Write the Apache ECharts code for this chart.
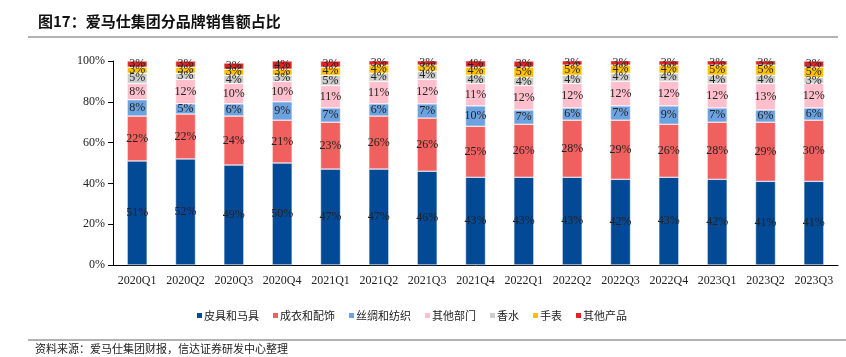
<!DOCTYPE html>
<html><head><meta charset="utf-8">
<script src="https://cdn.jsdelivr.net/npm/echarts@6/dist/echarts.min.js"></script>
<style>html,body{margin:0;padding:0;background:#fff}#c{width:846px;height:357px}</style>
</head><body><div id="c"></div>
<script>
const categories = ['2020Q1','2020Q2','2020Q3','2020Q4','2021Q1','2021Q2','2021Q3','2021Q4','2022Q1','2022Q2','2022Q3','2022Q4','2023Q1','2023Q2','2023Q3'];
const leather = [51,52,49,50,47,47,46,43,43,43,42,43,42,41,41];
const readyToWear = [22,22,24,21,23,26,26,25,26,28,29,26,28,29,30];
const silk = [8,5,6,9,7,6,7,10,7,6,7,9,7,6,6];
const otherBusiness = [8,12,10,10,11,11,12,11,12,12,12,12,12,13,12];
const perfume = [5,3,4,3,5,4,4,4,4,4,4,4,4,4,3];
const watches = [3,3,3,3,4,4,3,4,5,5,4,4,5,5,5];
const otherProducts = [3,3,3,4,3,3,3,4,3,3,3,3,3,3,3];
const yTicks = ['0%','20%','40%','60%','80%','100%'];

const seriesDefs = [
  ['皮具和马具', leather, '#034a96'],
  ['成衣和配饰', readyToWear, '#f0605e'],
  ['丝绸和纺织', silk, '#6ca2e0'],
  ['其他部门', otherBusiness, '#ffbfcc'],
  ['香水', perfume, '#cccccc'],
  ['手表', watches, '#ffc000'],
  ['其他产品', otherProducts, '#e02424']
];
const serif = "'Liberation Serif','Times New Roman',serif";
const chart = echarts.init(document.getElementById('c'));
chart.setOption({
  animation: false,
  grid: {left: 113, right: 8, top: 61, bottom: 92},
  legend: {
    left: 190, top: 305, itemWidth: 7, itemHeight: 7, itemGap: 12,
    icon: 'rect',
    textStyle: {fontFamily: "'Noto Sans CJK SC'", fontSize: 11, color: '#222', padding: [0,0,0,-4]},
    data: seriesDefs.map(d => d[0])
  },
  xAxis: {
    type: 'category', data: categories,
    axisLine: {lineStyle: {color: '#000', width: 1}},
    axisTick: {show: false},
    axisLabel: {fontFamily: serif, fontSize: 12, color: '#222', margin: 10, interval: 0}
  },
  yAxis: {
    type: 'value', min: 0, max: 100, interval: 20,
    axisLine: {show: true, lineStyle: {color: '#000'}},
    axisTick: {show: true, length: 5, lineStyle: {color: '#000'}},
    splitLine: {show: false},
    axisLabel: {fontFamily: serif, fontSize: 12, color: '#222', margin: 8,
      formatter: v => yTicks[v / 20]}
  },
  series: seriesDefs.map(d => ({
    name: d[0], type: 'bar', stack: 'all', data: d[1], barWidth: 20,
    itemStyle: {color: d[2], borderColor: '#fff', borderWidth: 0.5},
    label: {show: true, position: 'inside', fontFamily: serif, fontSize: 12, color: '#222',
      formatter: p => p.value + '%'}
  })),
  graphic: [
    {type: 'text', left: 38, top: 14, style: {text: '图17：爱马仕集团分品牌销售额占比', font: "bold 15px 'Noto Sans CJK SC'", fill: '#111'}},
    {type: 'line', shape: {x1: 28, y1: 37, x2: 838, y2: 37}, style: {stroke: '#999', lineWidth: 1.5}},
    {type: 'line', shape: {x1: 28, y1: 340, x2: 846, y2: 340}, style: {stroke: '#999', lineWidth: 1.5}},
    {type: 'text', left: 35, top: 343, style: {text: '资料来源：爱马仕集团财报，信达证券研发中心整理', font: "11px 'Noto Sans CJK SC'", fill: '#222'}}
  ]
});
</script></body></html>
